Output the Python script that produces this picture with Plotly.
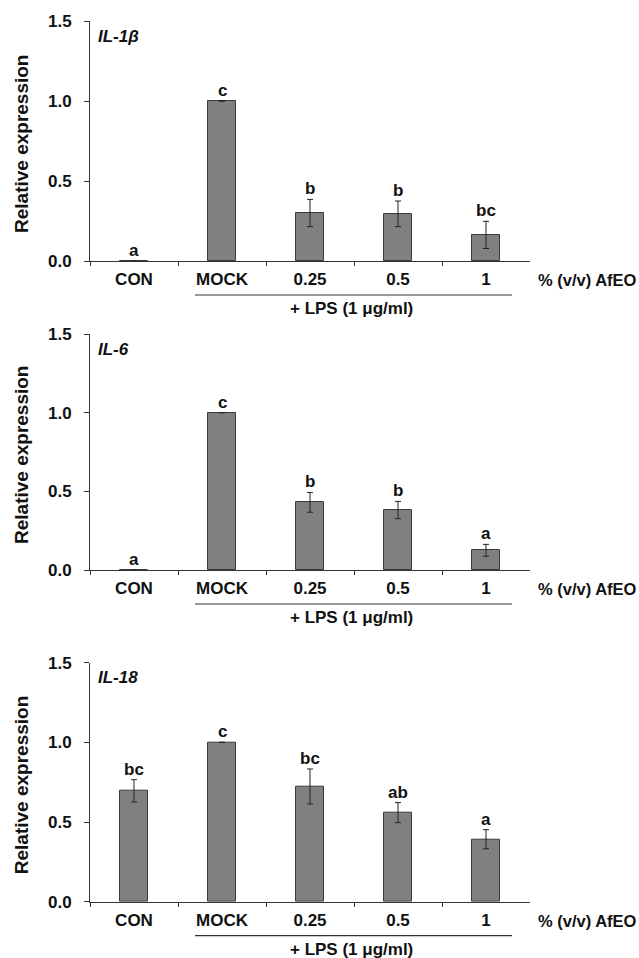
import plotly.graph_objects as go

W, H = 639, 958

categories = ["CON", "MOCK", "0.25", "0.5", "1"]
genes = ["IL-1β", "IL-6", "IL-18"]

il1b_values = [0.0, 1.0, 0.30, 0.295, 0.163]
il1b_errors = [0.0, 0.0, 0.085, 0.08, 0.085]
il1b_letters = ["a", "c", "b", "b", "bc"]

il6_values = [0.0, 1.0, 0.43, 0.381, 0.125]
il6_errors = [0.0, 0.0, 0.063, 0.055, 0.038]
il6_letters = ["a", "c", "b", "b", "a"]

il18_values = [0.696, 1.0, 0.723, 0.559, 0.392]
il18_errors = [0.07, 0.0, 0.11, 0.063, 0.06]
il18_letters = ["bc", "c", "bc", "ab", "a"]

y_ticks = [0.0, 0.5, 1.0, 1.5]
y_ticktext = ["0.0", "0.5", "1.0", "1.5"]

panels = [
    (il1b_values, il1b_errors, il1b_letters),
    (il6_values, il6_errors, il6_letters),
    (il18_values, il18_errors, il18_letters),
]

# pixel layout on the page (top of plot area, bottom of plot area)
x_left, x_right = 90, 530
panel_px = [(21, 261), (334, 570), (662.7, 901.7)]

def px(x):
    return x / W

def py(y):
    return 1 - y / H

FONT = "Liberation Sans, Arial, sans-serif"
TXT = "#111111"

fig = go.Figure()
for i, (vals, errs, letters) in enumerate(panels):
    n = i + 1
    xa = "x" if n == 1 else f"x{n}"
    ya = "y" if n == 1 else f"y{n}"
    fig.add_trace(go.Bar(
        x=categories, y=vals,
        xaxis=xa, yaxis=ya,
        width=0.32,
        marker=dict(color="#808080", line=dict(color="#3a3a3a", width=1)),
        error_y=dict(type="data", array=errs, visible=True,
                     color="#222222", thickness=1, width=3),
        showlegend=False, hoverinfo="skip",
    ))
    for j, (v, e, t) in enumerate(zip(vals, errs, letters)):
        fig.add_annotation(x=j, y=v + e, xref=xa, yref=ya, text=t,
                           showarrow=False, xanchor="center", yanchor="bottom", yshift=-1,
                           font=dict(family=FONT, size=17, color=TXT, weight="bold"))
    top, bot = panel_px[i]
    axis_common = dict(showline=True, linecolor="#333333", linewidth=1,
                       showgrid=False, zeroline=False, ticks="outside",
                       tickcolor="#333333", mirror=False, automargin=False)
    xkey = "xaxis" if n == 1 else f"xaxis{n}"
    ykey = "yaxis" if n == 1 else f"yaxis{n}"
    fig.update_layout(**{
        xkey: dict(axis_common, domain=[px(x_left), px(x_right)], anchor=ya,
                   type="category", range=[-0.5, 4.5], tickson="boundaries",
                   ticklen=4, tickfont=dict(family=FONT, size=17, color=TXT, weight="bold"),
                   ticklabelstandoff=3),
        ykey: dict(axis_common, domain=[py(bot), py(top)], anchor=xa,
                   range=[0, 1.5], tickvals=y_ticks, ticktext=y_ticktext,
                   ticklen=5, ticklabelstandoff=9,
                   tickfont=dict(family=FONT, size=17, color=TXT, weight="bold")),
    })
    # y axis title
    fig.add_annotation(x=px(21), y=py((top + bot) / 2 + 3), xref="paper", yref="paper",
                       xanchor="center", yanchor="middle",
                       text="Relative expression", textangle=-90, showarrow=False,
                       font=dict(family=FONT, size=19, color=TXT, weight="bold"))
    # gene label
    fig.add_annotation(x=px(96), y=py(top + 15), xref="paper", yref="paper",
                       xanchor="left", yanchor="middle",
                       text=f"<i>{genes[i]}</i>", showarrow=False,
                       font=dict(family=FONT, size=17, color=TXT, weight="bold"))
    # unit label
    fig.add_annotation(x=px(536), y=py(bot + 19), xref="paper", yref="paper",
                       xanchor="left", yanchor="middle",
                       text="% (v/v) AfEO", showarrow=False,
                       font=dict(family=FONT, size=16.5, color=TXT, weight="bold"))
    # LPS underline
    fig.add_shape(type="line", xref="paper", yref="paper",
                  x0=px(195), x1=px(512), y0=py(bot + 34), y1=py(bot + 34),
                  line=dict(color="#333333", width=1.2))
    fig.add_annotation(x=px(351), y=py(bot + 47.5), xref="paper", yref="paper",
                       xanchor="center", yanchor="middle",
                       text="+ LPS (1 μg/ml)", showarrow=False,
                       font=dict(family=FONT, size=17, color=TXT, weight="bold"))

fig.update_layout(width=W, height=H, margin=dict(l=0, r=0, t=0, b=0, autoexpand=False),
                  plot_bgcolor="white", paper_bgcolor="white", bargap=0,
                  hovermode=False)
fig.write_html("out.html", config={"displayModeBar": False},
               post_script="document.body.style.margin='0px';document.body.style.overflow='hidden';")
